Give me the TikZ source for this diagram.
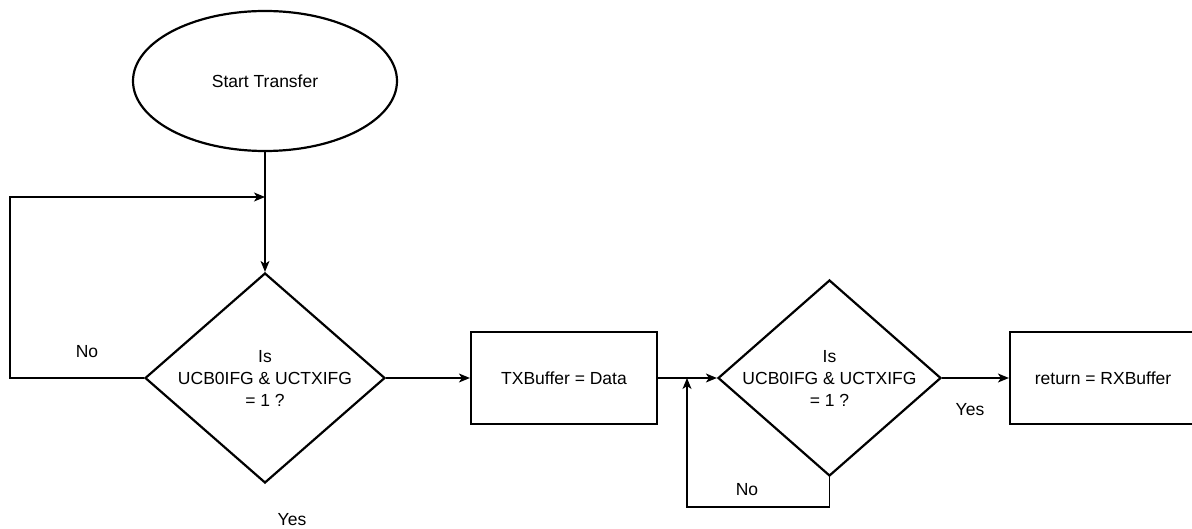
\documentclass[tikz,border=0pt]{standalone}
\usepackage{fontspec}
\setmainfont{Liberation Sans}
\usetikzlibrary{shapes.geometric,arrows.meta}
\tikzset{
  shapeline/.style={draw=black,line width=2.2pt},
  terminal/.style={shapeline,ellipse,minimum width=264pt,minimum height=140pt,inner sep=0pt},
  decision/.style={shapeline,diamond,inner sep=0pt},
  process/.style={shapeline,rectangle,minimum width=186pt,minimum height=92pt,inner sep=0pt},
  txt/.style={font=\fontsize{17.5}{22}\selectfont,align=center,inner sep=0pt},
  conn/.style={draw=black,line width=1.3pt},
  arr/.style={conn,-{Stealth[length=11pt,width=9pt,inset=3pt]}},
}
\begin{document}
\begin{tikzpicture}[x=1pt,y=-1pt]
  \useasboundingbox (0,0) rectangle (1192,529);
  \clip (0,0) rectangle (1192,529);

  % shapes
  \node[terminal,txt] (start) at (265,81) {Start Transfer};
  \node[decision,minimum width=240pt,minimum height=210pt,
        label={[txt]center:Is\\UCB0IFG \& UCTXIFG\\= 1 ?}] (d1) at (265,378) {};
  \node[process,txt] (r1) at (564,378) {TXBuffer = Data};
  \node[decision,minimum width=223pt,minimum height=196pt,
        label={[txt]center:Is\\UCB0IFG \& UCTXIFG\\= 1 ?}] (d2) at (829.5,378) {};
  \node[process,txt] (r2) at (1103,378) {return = RXBuffer};

  % junction points of the loops
  \coordinate (j1) at (265,197);
  \coordinate (j2) at (687,378);
  \coordinate (c1) at (10,378);
  \coordinate (c2) at (829.5,507);

  % connectors
  \draw[conn] (start.south) -- (j1);
  \draw[arr] (j1) -- (d1.north);
  \draw[arr] (d1.west) -- (c1) |- (j1);
  \draw[arr] (d1.east) -- (r1.west);
  \draw[arr] (r1.east) -- (d2.west);
  \draw[arr] (d2.south) -- (c2) -| (j2);
  \draw[arr] (d2.east) -- (r2.west);

  % branch labels
  \node[txt] (no1) at (87,352) {No};
  \node[txt] (yes1) at (292,520) {Yes};
  \node[txt] (no2) at (747,490) {No};
  \node[txt] (yes2) at (970,410) {Yes};
\end{tikzpicture}
\end{document}
